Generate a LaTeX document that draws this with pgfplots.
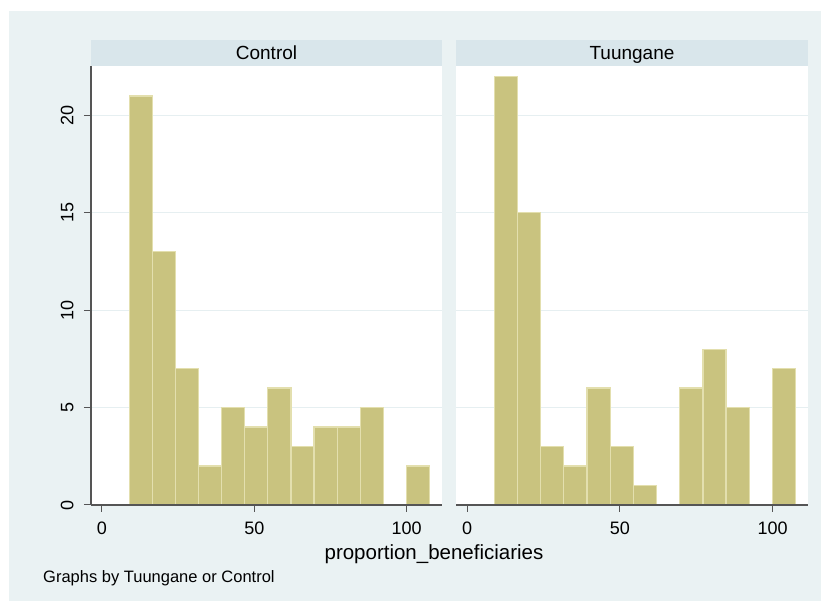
\documentclass[border=0pt]{standalone}
\usepackage{fontspec}
\setmainfont{Liberation Sans}
\usepackage{pgfplots}
\pgfplotsset{compat=1.18}
\definecolor{bgc}{HTML}{EAF2F3}
\definecolor{stripc}{HTML}{D9E6EB}
\definecolor{barc}{HTML}{C9C37F}
\definecolor{bare}{HTML}{E3DFAE}
\definecolor{axc}{HTML}{555555}
\definecolor{gridc}{HTML}{E6EFF1}
\pgfplotsset{
  panel/.style={
    anchor=south west, scale only axis, width=351pt, height=439pt,
    xmin=-3.6, xmax=111.6, ymin=0, ymax=22.54,
    axis background/.style={fill=white},
    axis x line*=bottom, axis y line*=left,
    axis line style={axc, line width=1.2pt, -},
    xtick={0,50,100}, ytick={0,5,10,15,20},
    tick align=outside, major tick length=7pt,
    tick style={axc, line width=1pt},
    ymajorgrids, grid style={gridc, line width=1.2pt},
    ticklabel style={font=\fontsize{18}{20}\selectfont},
    xticklabel style={yshift=-6pt},
    /pgf/number format/assume math mode=true,
  },
  bars/.style={ybar interval, fill=barc, draw=bare, line width=1.3pt},
}
\begin{document}
\begin{tikzpicture}[x=1pt,y=1pt]
\useasboundingbox (0,0) rectangle (821,601);
\fill[white] (0,0) rectangle (821,601);
\fill[bgc] (9,0) rectangle (821,590);
\fill[stripc] (91,535) rectangle (442,561);
\fill[stripc] (456,535) rectangle (808,561);
\node[font=\fontsize{19}{22}\selectfont, anchor=base] at (266.5,541) {Control};
\node[font=\fontsize{19}{22}\selectfont, anchor=base] at (632,541) {Tuungane};

\begin{axis}[panel, at={(91pt,96pt)}, width=351pt,
  yticklabel style={rotate=90, anchor=south, yshift=7pt}]
\addplot[bars] coordinates {(8.93,21) (16.515,13) (24.10,7) (31.685,2) (39.27,5) (46.855,4) (54.44,6) (62.025,3) (69.61,4) (77.195,4) (84.78,5) (92.365,5)};
\addplot[bars] coordinates {(99.95,2) (107.535,2)};
\draw[axc, line width=1.2pt] (rel axis cs:0,0) -- (rel axis cs:1,0);
\end{axis}

\begin{axis}[panel, at={(456pt,96pt)}, width=352pt,
  yticklabels={}, y axis line style={draw=none}, ytick style={draw=none}]
\addplot[bars] coordinates {(8.93,22) (16.515,15) (24.10,3) (31.685,2) (39.27,6) (46.855,3) (54.44,1) (62.025,1)};
\addplot[bars] coordinates {(69.61,6) (77.195,8) (84.78,5) (92.365,5)};
\addplot[bars] coordinates {(99.95,7) (107.535,7)};
\draw[axc, line width=1.2pt] (rel axis cs:0,0) -- (rel axis cs:1,0);
\end{axis}

\node[font=\fontsize{20.5}{24}\selectfont] at (434,47) {proportion\_beneficiaries};
\node[anchor=west, font=\fontsize{16.5}{19}\selectfont, inner sep=0pt] at (43,23) {Graphs by Tuungane or Control};
\end{tikzpicture}
\end{document}
